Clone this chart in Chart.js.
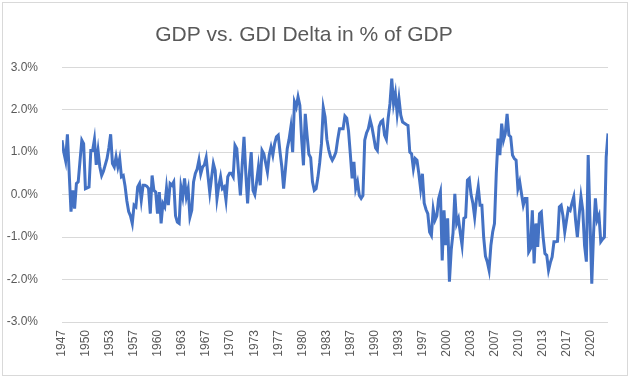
<!DOCTYPE html>
<html>
<head>
<meta charset="utf-8">
<script src="https://cdn.jsdelivr.net/npm/chart.js@4.4.1/dist/chart.umd.min.js"></script>
<style>
    html, body { margin: 0; padding: 0; background: #fff; }
    #wrap { width: 633px; height: 383px; position: relative; }
</style>
</head>
<body>
<div id="wrap"><canvas id="gdp-gdi-chart"></canvas></div>
<script>
// quarterly delta, first quarter is 1947 Q1
const startYear = 1947;
const deltaPct = [
    1.28, 1.0, 0.8, 1.42,      // 1947
    0.5, -0.4, 0.1, -0.33,     // 1948
    0.26, 0.3, 0.8, 1.28,      // 1949
    1.2, 0.14, 0.16, 0.18,     // 1950
    1.04, 1.04, 1.3, 0.7,      // 1951
    1.04, 0.65, 0.45, 0.55,    // 1952
    0.7, 0.85, 1.1, 1.42,      // 1953
    0.73, 0.65, 0.89, 0.65,    // 1954
    0.85, 0.42, 0.45, 0.2,     // 1955
    -0.15, -0.4, -0.5, -0.68,  // 1956
    -0.25, -0.29, 0.18, 0.26,  // 1957
    -0.13, 0.22, 0.22, 0.2,    // 1958
    0.15, -0.45, 0.45, 0.1,    // 1959
    0.06, -0.45, 0.06, -0.68,  // 1960
    -0.21, -0.29, 0.15, -0.25, // 1961
    0.26, 0.22, 0.3, -0.5,     // 1962
    -0.65, -0.68, 0.18, -0.05, // 1963
    0.38, -0.05, 0.14, -0.53,  // 1964
    -0.37, 0.3, 0.5, 0.6,      // 1965
    0.81, 0.49, 0.65, 0.7,     // 1966
    0.87, 0.45, 0.05, 0.4,     // 1967
    0.73, 0.57, -0.1, 0.2,     // 1968
    0.42, 0.14, 0.18, -0.13,   // 1969
    0.42, 0.5, 0.5, 0.42,      // 1970
    1.16, 1.08, 0.5, -0.02,    // 1971
    0.7, 1.36, 0.5, -0.21,     // 1972
    0.5, 1.0, 0.1, 0.0,        // 1973
    0.3, 0.65, 0.22, 1.04,     // 1974
    0.96, 0.75, 0.53, 0.93,    // 1975
    1.12, 0.93, 1.2, 1.36,     // 1976
    1.4, 1.0, 0.65, 0.14,      // 1977
    0.6, 1.08, 1.3, 1.59,      // 1978
    1.0, 2.18, 2.06, 2.3,      // 1979
    2.1, 1.3, 0.69, 1.9,       // 1980
    1.4, 0.95, 0.87, 0.3,      // 1981
    0.1, 0.14, 0.4, 0.75,      // 1982
    1.2, 2.05, 1.83, 1.3,      // 1983
    1.06, 0.9, 0.81, 0.89,     // 1984
    1.0, 1.3, 1.55, 1.55,      // 1985
    1.55, 1.85, 1.8, 1.5,      // 1986
    0.96, 0.38, 0.77, 0.14,    // 1987
    0.3, -0.02, -0.09, -0.02,  // 1988
    1.28, 1.45, 1.55, 1.76,    // 1989
    1.59, 1.35, 1.1, 1.04,     // 1990
    1.6, 1.71, 1.75, 1.4,      // 1991
    1.3, 1.8, 2.14, 2.73,      // 1992
    2.14, 2.38, 1.9, 2.26,     // 1993
    1.87, 1.71, 1.68, 1.65,    // 1994
    1.63, 1.0, 0.96, 0.61,     // 1995
    0.85, 0.81, 0.5, 0.14,     // 1996
    0.49, -0.2, -0.35, -0.45,  // 1997
    -0.88, -0.96, -0.35, -0.6, // 1998
    -0.5, -0.1, 0.06, -1.55,   // 1999
    -0.37, -1.19, -0.56, -2.05,// 2000
    -1.3, -0.9, 0.02, -0.68,   // 2001
    -0.56, -0.9, -1.19, -0.56, // 2002
    -0.53, 0.34, 0.38, 0.0,    // 2003
    -0.2, -0.53, -0.1, 0.18,   // 2004
    -0.25, -0.25, -1.0, -1.45, // 2005
    -1.58, -1.78, -1.2, -0.88, // 2006
    -0.68, 0.5, 1.32, 0.93,    // 2007
    1.67, 1.28, 1.44, 1.9,     // 2008
    1.4, 1.36, 0.93, 0.85,     // 2009
    0.81, 0.14, 0.3, 0.02,     // 2010
    -0.25, -0.09, -0.09, -1.35,// 2011
    -1.27, -0.37, -1.62, -0.68,// 2012
    -1.23, -0.45, -0.41, -1.0, // 2013
    -1.39, -1.43, -1.78, -1.6, // 2014
    -1.47, -1.11, -1.11, -1.1, // 2015
    -0.29, -0.25, -0.5, -0.88, // 2016
    -0.6, -0.33, -0.37, -0.2,  // 2017
    -0.05, -0.6, -1.0, -0.49,  // 2018
    -0.05, -0.37, -1.2, -1.58, // 2019
    0.93, -0.6, -2.1, -0.9,    // 2020
    -0.09, -0.6, -0.49, -1.11, // 2021
    -1.05, -1.0, 0.89, 1.44    // 2022
];
// excel shows a label every 40 months
const yearLabels = ['1947', '1950', '1953', '1957', '1960', '1963', '1967', '1970', '1973', '1977', '1980', '1983',
    '1987', '1990', '1993', '1997', '2000', '2003', '2007', '2010', '2013', '2017', '2020'];
const yTicks = [-3, -2, -1, 0, 1, 2, 3];

const textGrey = '#595959';
const gridGrey = '#d9d9d9';

const chartBorder = {
    id: 'chartBorder',
    beforeDraw(chart) {
        const ctx = chart.ctx;
        ctx.save();
        ctx.fillStyle = '#fff';
        ctx.fillRect(0, 0, chart.width, chart.height);
        ctx.strokeStyle = gridGrey;
        ctx.lineWidth = 1;
        ctx.strokeRect(2.5, 2.5, 625, 373);
        ctx.restore();
    }
};

document.addEventListener('DOMContentLoaded', () => {
    const ctx = document.getElementById('gdp-gdi-chart').getContext('2d');
    const points = deltaPct.map((v, i) => ({ x: startYear + i / 4, y: v }));

    new Chart(ctx, {
        type: 'line',
        data: {
            datasets: [{
                label: 'GDP vs. GDI Delta',
                data: points,
                borderColor: '#4472C4',
                borderWidth: 3,
                pointRadius: 0,
                tension: 0,
                fill: false
            }]
        },
        options: {
            responsive: true,
            maintainAspectRatio: false,
            animation: false,
            layout: { padding: { left: 0, right: 25, top: 0, bottom: 11 } },
            scales: {
                x: {
                    type: 'linear',
                    min: startYear,
                    max: startYear + (deltaPct.length - 1) / 4,
                    afterBuildTicks: (scale) => {
                        scale.ticks = yearLabels.map((t, k) => ({ value: startYear + k * 40 / 12 }));
                    },
                    afterFit: (scale) => { scale.height = 50; },
                    grid: { display: false, drawTicks: false },
                    border: { display: false },
                    ticks: {
                        autoSkip: false,
                        minRotation: 90,
                        maxRotation: 90,
                        padding: 8,
                        color: textGrey,
                        font: { family: 'Liberation Sans', size: 12 },
                        callback: (v, idx) => yearLabels[idx]
                    }
                },
                y: {
                    min: -3,
                    max: 3,
                    afterBuildTicks: (scale) => {
                        scale.ticks = yTicks.map(v => ({ value: v }));
                    },
                    afterFit: (scale) => { scale.width = 62; },
                    grid: { color: gridGrey, drawTicks: false },
                    border: { display: false },
                    ticks: {
                        padding: 24,
                        color: textGrey,
                        font: { family: 'Liberation Sans', size: 12 },
                        callback: (v) => v.toFixed(1) + '%'
                    }
                }
            },
            plugins: {
                legend: { display: false },
                tooltip: { enabled: false },
                title: {
                    display: true,
                    text: 'GDP vs. GDI Delta in % of GDP',
                    color: textGrey,
                    font: { family: 'Liberation Sans', size: 21, weight: 'normal' },
                    padding: { top: 23, bottom: 19 }
                }
            }
        },
        plugins: [chartBorder]
    });
});
</script>
</body>
</html>
